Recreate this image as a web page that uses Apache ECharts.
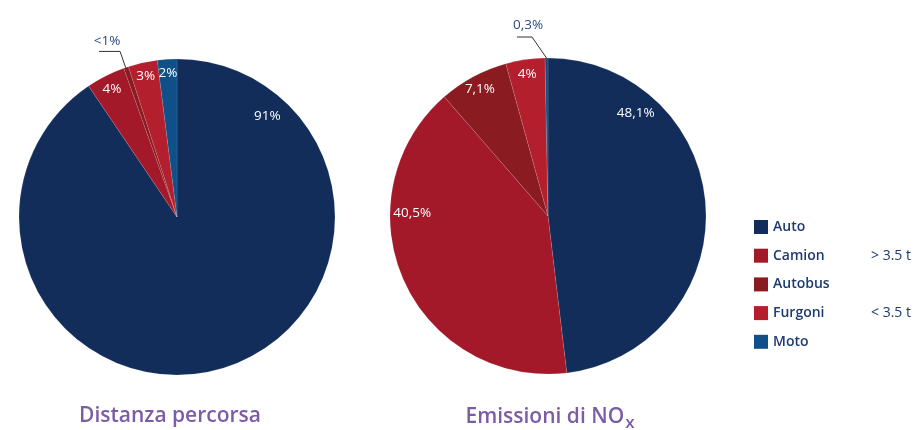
<!DOCTYPE html>
<html><head><meta charset="utf-8">
<script src="https://cdn.jsdelivr.net/npm/echarts@6/dist/echarts.min.js"></script>
<style>html,body{margin:0;padding:0;background:#fff}#c{width:916px;height:430px}</style>
</head><body><div id="c"></div>
<script>
// ---- data ----
const categories = ['Auto', 'Camion', 'Autobus', 'Furgoni', 'Moto'];
const distanceValues = [91, 4, 0.5, 3, 2];
const distanceLabels = ['91%', '4%', '<1%', '3%', '2%'];
const noxValues = [48.1, 40.5, 7.1, 4, 0.3];
const noxLabels = ['48,1%', '40,5%', '7,1%', '4%', '0,3%'];
const legendNotes = { Camion: '> 3.5 t', Furgoni: '< 3.5 t' };
const chartTitles = ['Distanza percorsa', 'Emissioni di NO'];
const titleSub = 'x';

// ---- layout / style ----
const colors = ['#132d5b', '#a3192a', '#8a1b21', '#b31f2d', '#0f5089'];
const R = 158;
const centers = [[177, 217], [548, 216]];
const labelAngleOverride = { '0:0': [42, 0.855], '1:0': [40.5, 0.855], '1:1': [271, 0.86] };
const calloutLayout = {
  '0:2': { startR: 0.58, bend: [-6, -16], len: 21, text: [-13, -10] },
  '1:4': { startR: 1.0, bend: [-14.5, -21], len: 15, text: [-4, -12] }
};
const FONT = '"Open Sans", "Noto Sans", sans-serif';

function layoutLabel(si, values, p) {
  const [cx, cy] = centers[si];
  const total = values.reduce((a, b) => a + b, 0);
  let acc = 0;
  for (let k = 0; k < p.dataIndex; k++) acc += values[k];
  const mid = (acc + values[p.dataIndex] / 2) / total * 360;
  const key = si + ':' + p.dataIndex;
  const pt = (ang, r) => [cx + r * Math.sin(ang * Math.PI / 180), cy - r * Math.cos(ang * Math.PI / 180)];
  const c = calloutLayout[key];
  if (c) {
    const start = pt(mid, c.startR * R);
    const edge = pt(mid, R);
    const bend = [edge[0] + c.bend[0], edge[1] + c.bend[1]];
    const end = [bend[0] - c.len, bend[1]];
    return { x: bend[0] + c.text[0], y: bend[1] + c.text[1], align: 'center', verticalAlign: 'middle',
      labelLinePoints: [start, bend, end] };
  }
  const ov = labelAngleOverride[key];
  const q = pt(ov ? ov[0] : mid, (ov ? ov[1] : 0.91) * R);
  return { x: q[0], y: q[1], align: 'center', verticalAlign: 'middle' };
}

function makeSeries(si, values, labels) {
  return {
    type: 'pie', center: centers[si], radius: R, startAngle: 90, clockwise: true,
    avoidLabelOverlap: false, silent: true,
    itemStyle: { borderColor: 'rgba(255,255,255,0.18)', borderWidth: 0.6 },
    label: { show: true, position: 'inside', formatter: p => labels[p.dataIndex],
      color: '#ffffff', fontSize: 13.5, fontFamily: FONT },
    labelLine: { show: false },
    data: categories.map((name, i) => {
      const item = { name, value: values[i], itemStyle: { color: colors[i] } };
      if (calloutLayout[si + ':' + i]) {
        item.label = { position: 'outside', color: '#2a4a7f' };
        item.labelLine = { show: true, lineStyle: { color: '#333333', width: 1 } };
      }
      return item;
    }),
    labelLayout: p => layoutLabel(si, values, p)
  };
}

const chart = echarts.init(document.getElementById('c'), null, { renderer: 'canvas' });
chart.setOption({
  animation: false,
  backgroundColor: '#ffffff',
  legend: {
    orient: 'vertical', left: 754, top: 220, padding: 0, icon: 'rect', itemWidth: 14, itemHeight: 14, itemGap: 14.7,
    selectedMode: false, data: categories,
    itemStyle: { borderWidth: 0 },
    formatter: name => legendNotes[name] ? `{n|${name}}{t|${legendNotes[name]}}` : `{n|${name}}`,
    textStyle: {
      color: '#1d3b6f', fontFamily: FONT, fontSize: 14,
      rich: {
        n: { width: 98, fontSize: 14, fontWeight: 600, color: '#1d3b6f', fontFamily: FONT, lineHeight: 16 },
        t: { fontSize: 14, fontWeight: 400, color: '#1d3b6f', fontFamily: FONT, lineHeight: 16 }
      }
    }
  },
  graphic: [
    { type: 'text', x: 170, y: 416, style: { text: chartTitles[0], align: 'center', verticalAlign: 'middle',
      fill: '#7b5ca5', font: '600 21px ' + FONT } },
    { type: 'text', x: 550, y: 417, style: { text: `{a|${chartTitles[1]}}{b|${titleSub}}`, align: 'center', verticalAlign: 'middle',
      rich: { a: { fontSize: 21, fontWeight: 600, fill: '#7b5ca5', fontFamily: FONT, lineHeight: 28 },
              b: { fontSize: 17, fontWeight: 600, fill: '#7b5ca5', fontFamily: FONT, padding: [12, 0, 0, 1], lineHeight: 28 } } } }
  ],
  series: [makeSeries(0, distanceValues, distanceLabels), makeSeries(1, noxValues, noxLabels)]
});
</script></body></html>
